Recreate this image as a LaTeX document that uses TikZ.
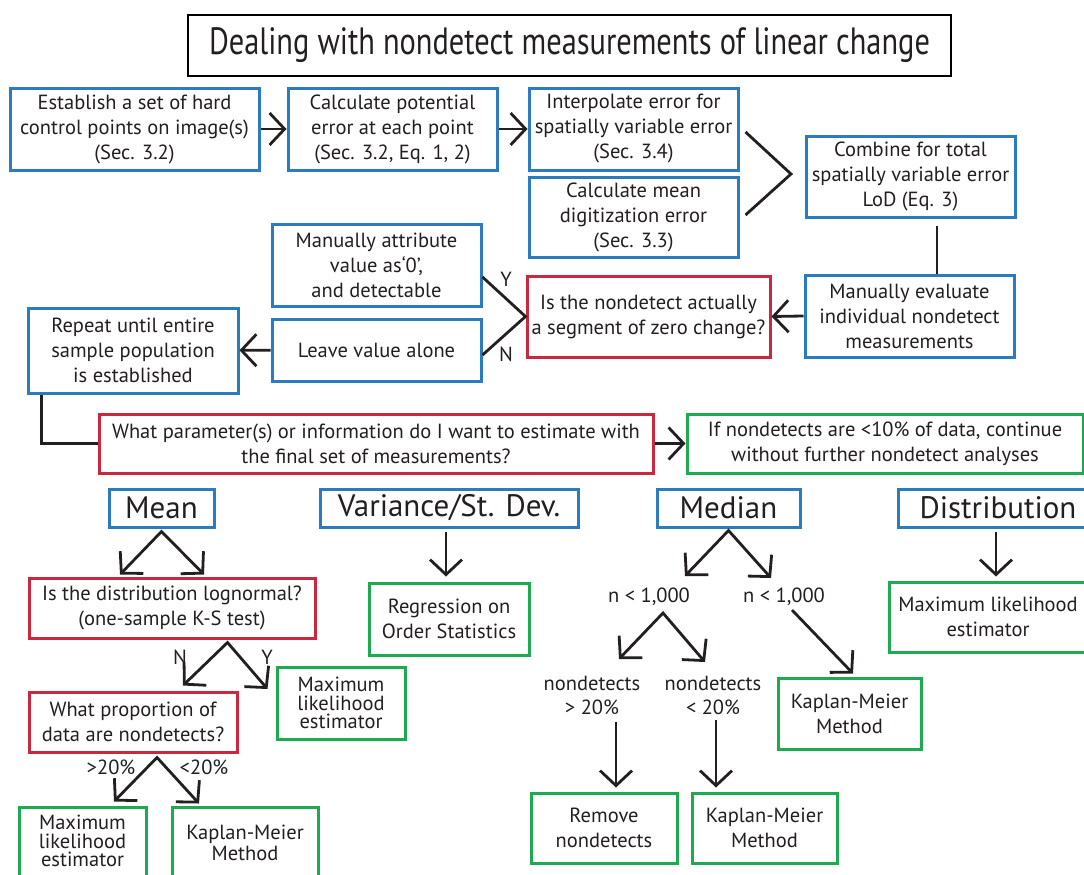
\documentclass[tikz,border=0pt]{standalone}
\usepackage{fontspec}
\setmainfont{PT Sans}
\usetikzlibrary{arrows.meta,calc}
\definecolor{bblue}{HTML}{2A7BC0}
\definecolor{bred}{HTML}{C9283E}
\definecolor{bgreen}{HTML}{1DAA50}
\definecolor{ink}{HTML}{231F20}
\begin{document}
\begin{tikzpicture}[x=1pt,y=-1pt,
  sz/.style 2 args={minimum width=#1pt, minimum height=#2pt},
  box/.style={draw, line width=3pt, inner sep=0pt, align=center, text=ink, font=\fontsize{20.5}{25}\selectfont},
  bluebox/.style={box, draw=bblue},
  redbox/.style={box, draw=bred},
  greenbox/.style={box, draw=bgreen},
  tight/.style={font=\fontsize{20.5}{18.5}\selectfont},
  hdr/.style={bluebox, font=\fontsize{31}{34}\selectfont},
  lbl/.style={text=ink, inner sep=0pt, align=center, font=\fontsize{20.5}{24}\selectfont},
  ln/.style={draw=ink, line width=2.8pt},
  tipA/.tip={Straight Barb[length=15pt,width=32pt]},
  arr/.style={ln, -tipA},
  dbl/.style={ln, tipA-tipA},
]
\fill[white] (0,0) rectangle (1084,875);
\useasboundingbox (0,0) rectangle (1084,875);
\clip (0,0) rectangle (1084,875);

% title
\node[box, draw=black, line width=2.5pt, sz={763}{61}, font=\fontsize{38}{40}\selectfont] (title) at (569.5,45.5) {\scalebox{0.8}[1]{Dealing with nondetect measurements of linear change}};

% top row
\node[bluebox, sz={249}{82}] (est) at (134.5,129) {Establish a set of hard\\control points on image(s)\\(Sec. 3.2)};
\node[bluebox, sz={209}{82}] (calc) at (392.5,129) {Calculate potential\\error at each point\\(Sec. 3.2, Eq. 1, 2)};
\node[bluebox, sz={209}{82}] (interp) at (633.5,129) {Interpolate error for\\spatially variable error\\(Sec. 3.4)};
\node[bluebox, sz={209}{80}] (digit) at (633.5,217) {Calculate mean\\digitization error\\(Sec. 3.3)};
\node[bluebox, sz={209}{81}] (combine) at (910.5,176.5) {Combine for total\\spatially variable error\\LoD (Eq. 3)};
\node[bluebox, sz={209}{82}] (evaluate) at (909.5,316) {Manually evaluate\\individual nondetect\\measurements};
\node[redbox, sz={243}{81}] (zero) at (648.5,316.5) {Is the nondetect actually\\a segment of zero change?};
\node[bluebox, sz={209}{82}] (attrib) at (376.5,265) {Manually attribute\\value as‘0’,\\and detectable};
\node[bluebox, sz={209}{62}] (leave) at (376.5,350) {Leave value alone};
\node[bluebox, sz={210}{85}] (repeat) at (133,350.5) {Repeat until entire\\sample population\\is established};
\node[redbox, sz={554}{59}] (whatparam) at (376,443.5) {What parameter(s) or information do I want to estimate with\\the final set of measurements?};
\node[greenbox, sz={396}{59}] (ifnon) at (885,443.5) {If nondetects are <10\% of data, continue\\without further nondetect analyses};

% headers
\node[hdr, sz={105}{38}] (mean) at (161.5,508) {Mean};
\node[hdr, sz={258}{38}] (variance) at (449,508) {Variance/St. Dev.};
\node[hdr, sz={143}{38}] (median) at (728.5,508) {Median};
\node[hdr, sz={200}{38}] (dist) at (998,508) {Distribution};

% lower boxes
\node[redbox, sz={286}{60}] (logn) at (172,608) {Is the distribution lognormal?\\(one-sample K-S test)};
\node[greenbox, sz={160}{72}] (ros) at (449,619) {Regression on\\Order Statistics};
\node[greenbox, sz={198}{70}] (mlr) at (988,617) {Maximum likelihood\\estimator};
\node[greenbox, tight, sz={128}{72}] (mlmid) at (341,703) {Maximum\\likelihood\\estimator};
\node[redbox, sz={208}{60}] (prop) at (133,722) {What proportion of\\data are nondetects?};
\node[greenbox, sz={127}{78}] (mlbl) at (82.5,846) {};
\node[lbl, tight] (mlbltext) at (82.5,841) {Maximum\\likelihood\\estimator};
\node[greenbox, sz={146}{78}] (kmbl) at (245,846) {};
\node[lbl, font=\fontsize{20.5}{21}\selectfont] (kmbltext) at (245,843) {Kaplan-Meier\\Method};
\node[greenbox, sz={146}{70}] (remove) at (604,828) {Remove\\nondetects};
\node[greenbox, sz={145}{70}] (kmmid) at (764.5,828) {Kaplan-Meier\\Method};
\node[greenbox, sz={143}{71}] (kmr) at (849.5,713.5) {Kaplan-Meier\\Method};

% labels
\node[lbl] (ly1) at (506,279) {Y};
\node[lbl] (ln1) at (506,354) {N};
\node[lbl] (ln2) at (180,657) {N};
\node[lbl] (ly2) at (267,657) {Y};
\node[lbl] (gt) at (111,767) {>20\%};
\node[lbl] (lt) at (204,767) {<20\%};
\node[lbl] (n1) at (649,597) {n < 1,000};
\node[lbl] (n2) at (784,597) {n < 1,000};
\node[lbl] (nd1) at (592,695) {nondetects\\> 20\%};
\node[lbl] (nd2) at (713,695) {nondetects\\< 20\%};

% connectors
\draw[arr] (est) -- (calc);
\draw[arr] (calc) -- (interp);
\coordinate (chev) at (791,174);
\draw[ln] ($(interp.east)+(6,3)$) -- (chev) -- ($(digit.east)+(6,-2)$);
\coordinate (vl) at (937,0);
\draw[ln] ($(combine.south -| vl)+(0,7)$) -- (evaluate.north -| vl);
\draw[arr] (evaluate.west) -- (zero.east);
\draw[ln] ($(attrib.east)+(0,12)$) -- (zero.west) -- ($(leave.east)+(0,5)$);
\draw[arr] (leave) -- (repeat);
\draw[ln] ($(repeat.south west)+(15,0)$) |- (whatparam.west);
\draw[arr] (whatparam) -- (ifnon);

\draw[dbl] ($(logn.north)+(-52,-2)$) -- ($(mean.south)+(0,3)$) -- ($(logn.north)+(32,-2)$);
\draw[arr] ($(variance.south)+(-3,3)$) -- ($(ros.north)+(-3,-5)$);
\draw[dbl] ($(prop.north)+(50,-5)$) -- ($(logn.south east)+(-89,3)$) -- ($(mlmid.west)+(-8,-14)$);
\draw[dbl] ($(mlbl.north)+(31.5,-4)$) -- ($(prop.south)+(24,4)$) -- ($(kmbl.north)+(-46,-2)$);

\draw[dbl] ($(n1)+(36,-21)$) -- ($(median.south)+(0,2)$) -- ($(n2)+(-13,-19)$);
\draw[dbl] ($(nd1)+(27,-36)$) -- ($(n1)+(14,16)$) -- ($(nd2)+(-8,-33)$);
\draw[arr] ($(n2)+(8,13)$) -- ($(kmr.north)+(3.5,-3)$);
\draw[arr] ($(remove.north)+(12,-70)$) -- ($(remove.north)+(12,-4)$);
\draw[arr] ($(kmmid.north)+(-48.5,-72)$) -- ($(kmmid.north)+(-48.5,-4)$);
\draw[arr] ($(dist.south)+(-2,3)$) -- ($(mlr.north)+(8,-4)$);
\end{tikzpicture}
\end{document}
